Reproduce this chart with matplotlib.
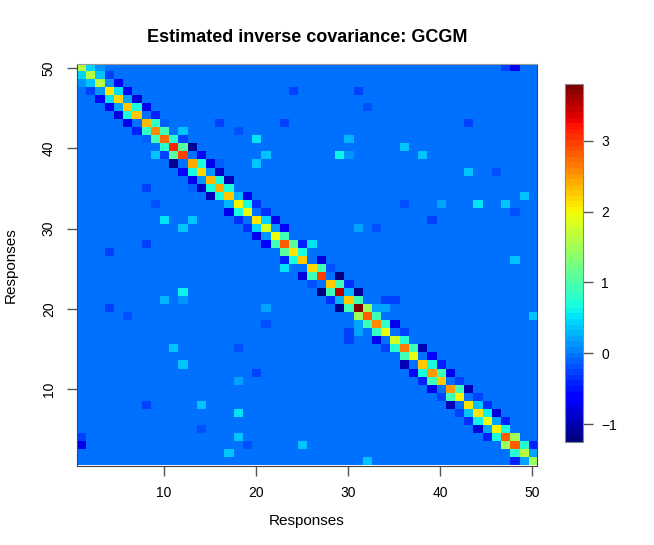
import numpy as np
import matplotlib
matplotlib.use("Agg")
import matplotlib.pyplot as plt
from matplotlib.colors import ListedColormap

plt.rcParams['font.family'] = ['Liberation Sans', 'DejaVu Sans']

# ---------------------------------------------------------
# Estimated precision matrix (50 x 50)
# ---------------------------------------------------------
n = 50

diag = [1.6, 1.6, 1.6, 2.1, 2.15, 2.3, 2.25, 2.35, 2.6, 2.75,
        3.1, 3.0, 2.4, 2.15, 2.35, 2.4, 2.3, 2.05, 1.95, 2.1,
        1.8, 1.95, 2.85, 2.1, 2.25, 2.2, 3.0, 2.25, 3.55, 2.3,
        3.8, 2.8, 2.55, 1.95, 1.75, 2.65, 1.95, 2.3, 2.5, 2.3,
        2.5, 2.05, 2.1, 2.1, 1.95, 2.0, 2.8, 2.8, 1.6, 1.45]

# (i, i+1)
off1 = [0.45, 0.4, 0.15, 0.55, 0.2, 0.7, 0.0, 0.85, 0.95, 0.8,
        1.1, 0.0, 0.7, 0.1, 0.7, 0.7, 0.3, 0.7, 0.0, 0.45,
        0.1, 0.95, 1.05, 0.65, 0.0, 0.95, 0.0, 0.95, 0.25, 0.95,
        1.5, 0.95, 0.85, 0.0, 0.8, 0.95, 0.0, 0.7, 0.95, 0.0,
        0.95, 0.0, 0.35, 0.6, 0.2, 0.7, 1.5, 0.8, 0.2]

# (i, i+2)
off2 = [0.1, -0.3, -0.65, -0.65, -0.85, -0.75, -0.45, -0.1, 0.0, -0.3,
        -1.1, -0.6, -0.75, -0.9, -1.0, 0.0, -0.75, -0.35, -0.35, -0.75,
        -0.65, 0.0, -0.45, 0.0, -0.8, -0.2, -1.25, -0.35, -1.1, 0.0,
        0.2, 0.0, -0.75, -0.25, 0.0, -1.0, -0.6, -0.4, -0.75, -0.3,
        -0.95, -0.3, -0.35, -0.8, -0.45, 0.0, 0.0, -0.45]

# scattered entries (1-based, upper triangle)
sp_i = [1, 1, 4, 4, 6, 8, 8, 8, 9, 9, 10, 10, 11, 12, 12, 12, 12, 13, 13, 14,
        14, 14, 17, 18, 18, 18, 18, 19, 20, 20, 21, 21, 23, 25, 30, 30, 31, 31, 32, 40]
sp_j = [47, 48, 24, 31, 32, 16, 23, 43, 18, 12, 20, 30, 36, 21, 29, 30, 38, 16, 20, 21,
        43, 46, 49, 36, 40, 44, 47, 48, 39, 41, 31, 33, 26, 48, 34, 35, 34, 35, 50, 50]
sp_v = [-0.3, -0.7, -0.3, -0.3, -0.2, -0.25, -0.3, -0.25, -0.2, 0.4, 0.5, 0.25, 0.4, 0.35, 0.6, 0.15, 0.4, -0.1, 0.4, -0.05,
        0.35, -0.2, 0.4, -0.2, 0.2, 0.5, 0.4, -0.15, -0.3, -0.05, 0.2, -0.15, 0.5, 0.4, -0.25, -0.25, 0.2, 0.0, 0.4, -0.03]

P = np.zeros((n, n))
P[np.arange(n), np.arange(n)] = diag
for k, v in enumerate(off1):
    P[k, k + 1] = P[k + 1, k] = v
for k, v in enumerate(off2):
    P[k, k + 2] = P[k + 2, k] = v
for i, j, v in zip(sp_i, sp_j, sp_v):
    P[i - 1, j - 1] = P[j - 1, i - 1] = v

zmin, zmax = -1.25, 3.8
cmap = ListedColormap(plt.cm.jet(np.linspace(0, 1, 64)))

# ---------------------------------------------------------
# Figure
# ---------------------------------------------------------
fig = plt.figure(figsize=(6.54, 5.45), dpi=100)
W, H = 654, 545
ax = fig.add_axes([76.6 / W, 1 - 465.5 / H, (537 - 76.6) / W, (465.5 - 64) / H])

im = ax.imshow(P, cmap=cmap, vmin=zmin, vmax=zmax, origin='upper',
               extent=(0.5, n + 0.5, 0.5, n + 0.5), aspect='auto',
               interpolation='nearest')

ax.set_xticks([10, 20, 30, 40, 50])
ax.set_yticks([10, 20, 30, 40, 50])
ax.set_yticklabels(['10', '20', '30', '40', '50'], rotation=90, va='center')
ax.tick_params(length=7, width=1, color='#555555', labelsize=10, pad=8)
for s in ax.spines.values():
    s.set_color('#444444')
    s.set_linewidth(0.8)
ax.spines['top'].set_color('#999999')

ax.set_xlabel('Responses', fontsize=11, labelpad=10)
ax.set_ylabel('Responses', fontsize=11, labelpad=17)
ax.set_title('Estimated inverse covariance: GCGM', fontsize=13,
             fontweight='bold', pad=16)

# colour bar
cax = fig.add_axes([565 / W, 1 - 442 / H, 18 / W, (442 - 84) / H])
cb = fig.colorbar(im, cax=cax)
cb.set_ticks([-1, 0, 1, 2, 3])
cb.set_ticklabels(['\u22121', '0', '1', '2', '3'])
cax.tick_params(length=7, width=1, color='#555555', labelsize=10, pad=6)
cb.outline.set_edgecolor('#888888')
cb.outline.set_linewidth(0.8)

fig.savefig('out.png', dpi=100)
